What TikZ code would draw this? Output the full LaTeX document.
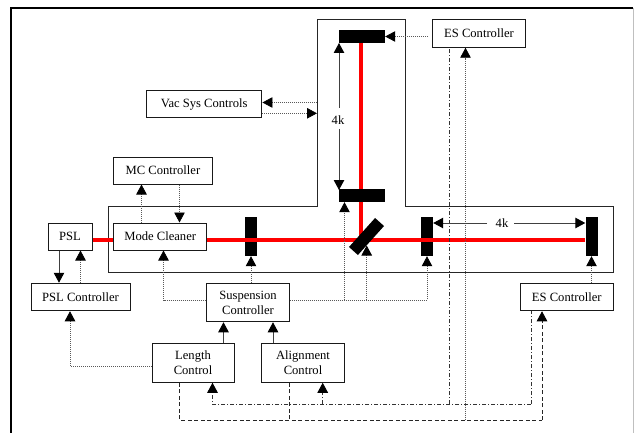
\documentclass[tikz,border=0pt]{standalone}
\usepackage{fontspec}
\setmainfont{Liberation Serif}
\usetikzlibrary{arrows.meta}
\tikzset{
  x=1pt,y=-1pt,
  box/.style={draw=black!90,line width=1pt,fill=white,inner sep=0pt,align=center,font=\fontsize{12.6}{15}\selectfont,text=black},
  mirror/.style={fill=black,draw=none,inner sep=0pt},
  beam/.style={draw=red,line width=4pt},
  tip/.style={-{Triangle[width=10.5pt,length=10pt,color=black,fill=black]}},
  solidl/.style={draw=black!75,line width=1pt},
  dotl/.style={draw=black!65,line width=.8pt,dash pattern=on 1pt off 1pt},
  dashl/.style={draw=black!85,line width=.9pt,dash pattern=on 4pt off 2.5pt},
  dashdotl/.style={draw=black!80,line width=.9pt,dash pattern=on 4pt off 2pt on 1pt off 2pt},
  lab/.style={inner sep=0pt,font=\fontsize{12.6}{15}\selectfont,text=black},
}
\begin{document}
\begin{tikzpicture}
\useasboundingbox (0,0) rectangle (634,433);
% frame
\coordinate (fbl) at (10.5,433);
\coordinate (ftl) at (10.5,8.5);
\coordinate (ftr) at (633,8.5);
\coordinate (fbr) at (633,433);
\draw[line width=2pt,black] (fbl) -- (ftl) -- (ftr);
\draw[line width=1pt,black!25] (ftr) -- (fbr);
% vacuum envelope
\draw[line width=1pt,black!85] (108.5,206.5) -- (317,206.5) -- (317,20) -- (405,20) -- (405,206.5) -- (613.5,206.5) -- (613.5,272) -- (108.5,272) -- cycle;
% beams
\coordinate (bs) at (366.5,236.5);
\node[mirror,minimum width=46pt,minimum height=13pt] (mt) at (362,36.5) {};
\node[mirror,minimum width=46pt,minimum height=13pt] (ml) at (362,195.5) {};
\node[mirror,minimum width=12pt,minimum height=39pt] (m1) at (251,236.5) {};
\node[mirror,minimum width=12pt,minimum height=39pt] (m2) at (427,236.5) {};
\node[mirror,minimum width=12pt,minimum height=39pt] (m3) at (591.5,236.5) {};
\node[box,minimum width=44pt,minimum height=27pt] (psl) at (70,236.5) {PSL};
\node[box,minimum width=93.5pt,minimum height=27pt] (mc) at (160.2,236.5) {Mode Cleaner};
\node[box,minimum width=99pt,minimum height=27.5pt] (pslc) at (80.5,297) {PSL Controller};
\node[box,minimum width=82.5pt,minimum height=38.5pt] (sus) at (248,302.5) {Suspension\\Controller};
\node[box,minimum width=82pt,minimum height=38.5pt] (len) at (193,363) {Length\\Control};
\node[box,minimum width=82.5pt,minimum height=38.5pt] (ali) at (303,363) {Alignment\\Control};
\node[box,minimum width=93.5pt,minimum height=27.5pt] (esl) at (566.8,297) {ES Controller};
\node[box,minimum width=93pt,minimum height=27.5pt] (est) at (479,33.5) {ES Controller};
\node[box,minimum width=115.5pt,minimum height=27pt] (vac) at (204.2,104.5) {Vac Sys Controls};
\node[box,minimum width=99pt,minimum height=27pt] (mcc) at (163,170.5) {MC Controller};
\path[beam] (psl.east |- 0,240) -- (mc.west |- 0,240);
\path[beam] (mc.east |- 0,240) -- (m3.west |- 0,240);
\path[beam] (mt.south -| 361,0) -- (ml.north -| 361,0);
\path[beam] (ml.south -| 361,0) -- (361,240);
\node[mirror,minimum width=39pt,minimum height=12pt,rotate=48] (bsm) at (bs) {};
% solid
\path[solidl,tip] (psl.south -| 59,0) -- (pslc.north -| 59,0);
\path[solidl,tip] (len.north -| 223.5,0) -- (sus.south -| 223.5,0);
\path[solidl,tip] (ali.north -| 273,0) -- (sus.south -| 273,0);
% dotted
\path[dotl,tip] (pslc.north -| 80.5,0) -- (psl.south -| 80.5,0);
\path[dotl,tip] (sus.west |- 0,300) -| (mc.south -| 163.5,0);
\path[dotl,tip] (sus.north -| 251,0) -- (m1.south);
\path[dotl,tip] (len.west |- 0,366) -| (pslc.south -| 70,0);
\path[dotl,tip] (sus.east |- 0,300) -| (m2.south);
\path[dotl,tip] (344.5,300) -- (ml.south -| 344.5,0);
\path[dotl,tip] (366.7,300) -- (366.7,245.5);
\path[dotl,tip] (esl.north -| m3.south) -- (m3.south);
\path[dotl,tip] (mcc.south -| 179.5,0) -- (mc.north -| 179.5,0);
\path[dotl,tip] (mc.north -| 141.5,0) -- (mcc.south -| 141.5,0);
\path[dotl,tip] (428,36.5) -- (mt.east);
\path[dotl,tip] (317,102.5) -- (vac.east |- 0,102.5);
\path[dotl,tip] (vac.east |- 0,113.3) -- (317,113.3);
\path[dotl,tip] (465.5,420) -- (est.south -| 465.5,0);
% dash-dot
\path[dashdotl,tip] (531,404) -| (len.south -| 212.5,0);
\path[dashdotl] (531,404) -- (esl.south -| 531,0);
\path[dashdotl,tip] (322.7,404) -- (ali.south -| 322.7,0);
\path[dashdotl] (449,404) -- (est.south -| 449,0);
% dashed
\path[dashl] (len.south -| 179.5,0) |- (542,420);
\path[dashl,tip] (542,420) -- (esl.south -| 542,0);
\path[dashl] (ali.south -| 289.7,0) -- (289.7,420);
% 4k
\node[lab] (k1) at (338,120) {4k};
\node[lab] (k2) at (502,223.5) {4k};
\path[solidl,tip] (339,108) -- (339,43);
\path[solidl,tip] (339,129) -- (339,190);
\path[solidl,tip] (487,223) -- (m2.east |- 0,223);
\path[solidl,tip] (514,223) -- (m3.west |- 0,223);
\end{tikzpicture}
\end{document}
